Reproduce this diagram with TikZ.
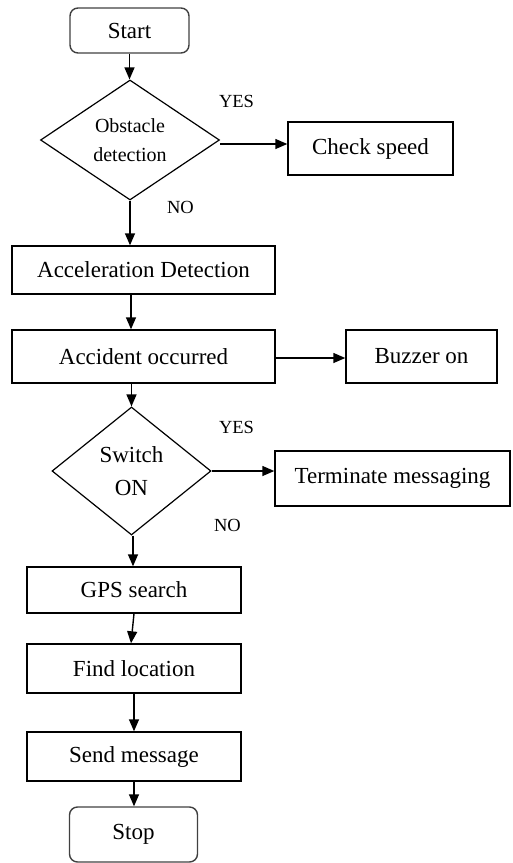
\documentclass[tikz,border=0pt]{standalone}
\usepackage{fontspec}
\setmainfont{Liberation Serif}
\usetikzlibrary{shapes.geometric,arrows.meta}
\begin{document}
\begin{tikzpicture}[x=1pt,y=-1pt,
  every node/.style={font=\fontsize{23}{26}\selectfont, inner sep=0pt},
  procbox/.style={draw, line width=1.4pt, rectangle, minimum width=#1},
  termbox/.style={draw=black!75, line width=1.4pt, rectangle, rounded corners=8pt},
  decide/.style={draw, line width=1.2pt, diamond, inner sep=0pt, align=center},
  lbl/.style={font=\fontsize{18.5}{20}\selectfont},
  conn/.style={line width=1.4pt, -{Triangle[length=12pt,width=10pt]}}
]
\useasboundingbox (0,0) rectangle (512,863);
\node[termbox, minimum width=119pt, minimum height=45pt] (start) at (129.5,30.5) {Start};
\node[decide, minimum width=179pt, minimum height=120pt, font=\fontsize{20}{29}\selectfont] (d1) at (130,140) {Obstacle\\detection};
\node[procbox=165pt, minimum height=53pt] (check) at (370.5,148.5) {Check speed};
\node[procbox=263pt, minimum height=48pt] (acc) at (143.5,270) {Acceleration Detection};
\node[procbox=263pt, minimum height=53pt] (occ) at (143.5,356.5) {Accident occurred};
\node[procbox=151pt, minimum height=53pt] (buzz) at (421.5,356.5) {Buzzer on};
\node[decide, minimum width=159pt, minimum height=128pt, font=\fontsize{23}{33}\selectfont] (d2) at (131.5,471) {Switch\\ON};
\node[procbox=235pt, minimum height=55pt] (term) at (392.5,478.5) {Terminate messaging};
\node[procbox=214pt, minimum height=46pt] (gps) at (134,590) {GPS search};
\node[procbox=214pt, minimum height=49pt] (find) at (134,668.5) {Find location};
\node[procbox=214pt, minimum height=49pt] (send) at (134,756.5) {Send message};
\node[termbox, minimum width=128pt, minimum height=55pt] (stop) at (133.5,834.5) {Stop};
\node[lbl] (yes1) at (236.5,101) {YES};
\node[lbl] (no1) at (180.5,207) {NO};
\node[lbl] (yes2) at (236.5,427) {YES};
\node[lbl] (no2) at (227.5,525) {NO};
\draw[conn] (start.south) -- (start.south |- d1.north);
\draw[conn] ([yshift=-4pt]d1.east) -- ([yshift=-4pt]d1.east -| check.west);
\draw[conn] (d1.south) -- (d1.south |- acc.north);
\draw[conn] ([xshift=1pt]acc.south -| d1.south) -- ([xshift=1pt]occ.north -| d1.south);
\draw[conn] ([yshift=-1.5pt]occ.east) -- ([yshift=-1.5pt]buzz.west);
\draw[conn] (occ.south -| d2.north) -- (d2.north);
\draw[conn] (d2.east) -- (d2.east -| term.west);
\draw[conn] ([xshift=1.5pt]d2.south) -- ([xshift=1.5pt]d2.south |- gps.north);
\draw[conn] (gps.south) -- ([xshift=-3pt]find.north);
\draw[conn] (find.south) -- (send.north);
\draw[conn] (send.south) -- (send.south |- stop.north);
\end{tikzpicture}
\end{document}
